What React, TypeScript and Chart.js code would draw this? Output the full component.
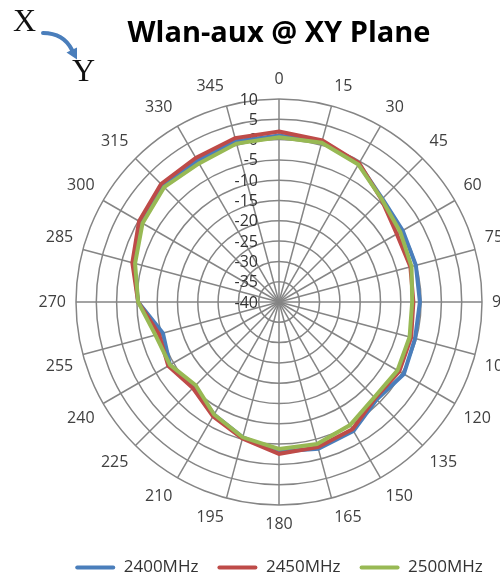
import React, { useEffect, useRef } from 'react';
import { Chart, registerables } from 'chart.js';

Chart.register(...registerables);

const ANGLE_LABELS = ['0', '15', '30', '45', '60', '75', '90', '105', '120', '135', '150', '165', '180', '195', '210', '225', '240', '255', '270', '285', '300', '315', '330', '345'];
const R_TICKS = [-40, -35, -30, -25, -20, -15, -10, -5, 0, 5, 10];
const SERIES_NAMES = ['2400MHz', '2450MHz', '2500MHz'];
const SERIES_COLORS = ['#4A7EBB', '#BE4B48', '#98B954'];

const S2400 = [1, 0.8, -0.7, -4.0, -4.8, -5.1, -5.3, -5.3, -4.5, -6.0, -3.3, -2.6, -3.2, -5.5, -8.0, -10.5, -9.0, -10.4, -5.3, -3.0, -0.7, 0.5, 0.2, 1.0];
const S2450 = [2, 1.2, -0.5, -4.3, -6.5, -6.5, -6.9, -6.3, -5.8, -6.5, -3.8, -3.0, -2.6, -5.2, -7.5, -10.0, -8.5, -9.4, -5.3, -2.6, -0.2, 1.1, 1.0, 1.8];
const S2500 = [0.6, 0.6, -0.9, -4.2, -5.5, -6.2, -7.2, -6.7, -6.3, -6.8, -5.0, -3.8, -3.8, -5.5, -8.0, -11.0, -9.0, -8.5, -5.3, -3.3, -1.2, 0.0, -0.6, 0.4];

const SERIES = [S2400, S2450, S2500];

const tickLabelPlugin = {
  id: 'rTickLabels',
  beforeDatasetsDraw(chart: any) {
    const s = chart.scales.r;
    const ctx = chart.ctx;
    ctx.save();
    ctx.font = '16px "Open Sans"';
    ctx.fillStyle = '#333333';
    ctx.textAlign = 'right';
    ctx.textBaseline = 'middle';
    s.ticks.forEach((t: any) => {
      const d = s.getDistanceFromCenterForValue(t.value);
      ctx.fillText(String(t.value), s.xCenter - 21, s.yCenter - d + 1);
    });
    ctx.restore();
  },
};

export default function App() {
  const ref = useRef<HTMLCanvasElement | null>(null);

  useEffect(() => {
    if (!ref.current) return;
    const chart = new Chart(ref.current, {
      type: 'radar',
      data: {
        labels: ANGLE_LABELS,
        datasets: SERIES.map((vals, i) => ({
          label: SERIES_NAMES[i],
          data: vals,
          borderColor: SERIES_COLORS[i],
          backgroundColor: SERIES_COLORS[i],
          borderWidth: 4,
          fill: false,
          pointRadius: 0,
          pointHoverRadius: 0,
          tension: 0,
          order: 3 - i,
        })),
      },
      options: {
        responsive: false,
        animation: false,
        devicePixelRatio: 1,
        layout: { padding: 0 },
        scales: {
          r: {
            min: R_TICKS[0],
            max: R_TICKS[R_TICKS.length - 1],
            ticks: { display: false, stepSize: 5 },
            grid: { circular: true, color: '#858585', lineWidth: 1.5 },
            angleLines: { color: '#858585', lineWidth: 1.5 },
            pointLabels: {
              font: { family: 'Open Sans', size: 16 },
              color: '#404040',
              padding: 10,
            },
            afterSetDimensions: (s: any) => {
              s.xCenter = 279;
              s.yCenter = 302;
              s.drawingArea = 203;
            },
          } as any,
        },
        plugins: {
          title: {
            display: true,
            text: 'Wlan-aux @ XY Plane',
            color: '#000000',
            font: { family: 'Open Sans', size: 29, weight: 'bold' },
            padding: { top: 16, bottom: 6 },
          },
          legend: {
            display: true,
            position: 'bottom',
            labels: {
              font: { family: 'Open Sans', size: 17 },
              color: '#333333',
              boxWidth: 40,
              boxHeight: 4,
              padding: 19,
              useBorderRadius: true,
              borderRadius: 2,
              generateLabels: (c: any) =>
                c.data.datasets.map((ds: any, i: number) => ({
                  text: ds.label,
                  fillStyle: ds.borderColor,
                  strokeStyle: ds.borderColor,
                  lineWidth: 0,
                  hidden: false,
                  datasetIndex: i,
                  borderRadius: 2,
                  fontColor: '#333333',
                })),
            },
          } as any,
          tooltip: { enabled: false },
        },
      },
      plugins: [tickLabelPlugin],
    });
    return () => chart.destroy();
  }, []);

  return (
    <div style={{ position: 'absolute', left: 0, top: 0, width: 500, height: 578, overflow: 'hidden', background: '#ffffff' }}>
      <canvas ref={ref} width={558} height={586} style={{ position: 'absolute', left: 0, top: 0, display: 'block' }} />
      <div style={{ position: 'absolute', left: 13, top: 4, fontFamily: '"Liberation Serif", serif', fontSize: 32, lineHeight: '32px', color: '#111' }}>X</div>
      <div style={{ position: 'absolute', left: 72, top: 54, fontFamily: '"Liberation Serif", serif', fontSize: 32, lineHeight: '32px', color: '#111' }}>Y</div>
      <svg width={90} height={70} style={{ position: 'absolute', left: 0, top: 0 }}>
        <path d="M43,33 C55,33 66,38 72,50" fill="none" stroke="#4A7EBB" strokeWidth={4} strokeLinecap="round" />
        <polygon points="66.5,52.5 77,47.5 77,59.5" fill="#4A7EBB" />
      </svg>
    </div>
  );
}
